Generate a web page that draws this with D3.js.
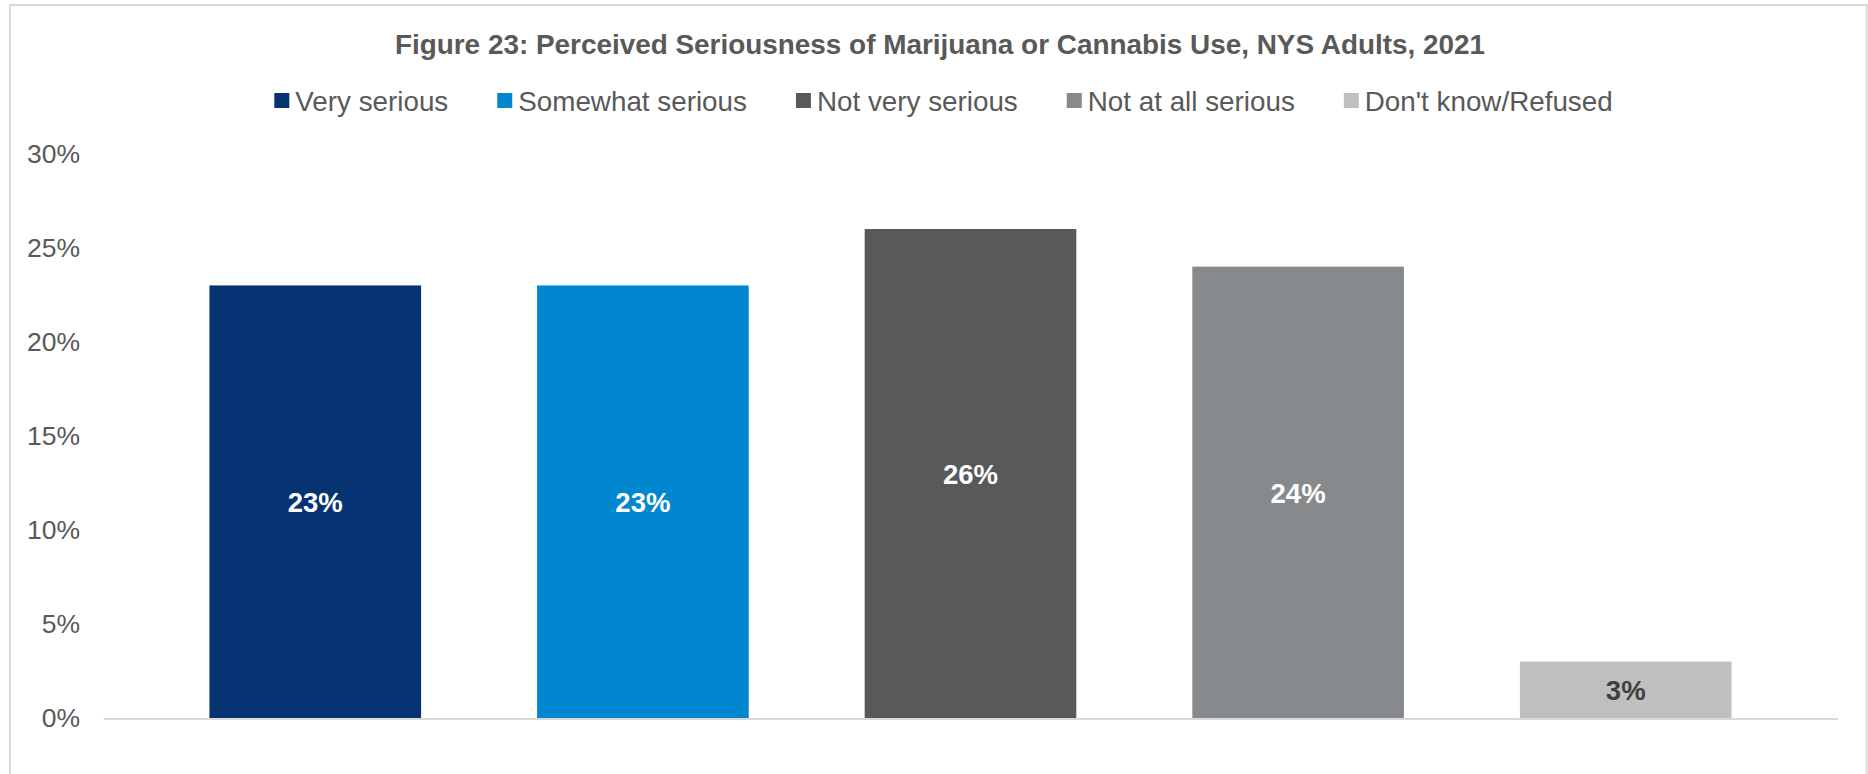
<!DOCTYPE html>
<html>
<head>
<meta charset="utf-8">
<script src="https://cdn.jsdelivr.net/npm/d3@7"></script>
<style>
  html, body { margin: 0; padding: 0; background: #ffffff; }
  svg { display: block; font-family: "Liberation Sans", Arial, Helvetica, sans-serif; }
</style>
</head>
<body>
<svg id="chart" width="1868" height="774"></svg>
<script>
// ---- Data ----
const title = "Figure 23: Perceived Seriousness of Marijuana or Cannabis Use, NYS Adults, 2021";
const categories = ["Very serious", "Somewhat serious", "Not very serious", "Not at all serious", "Don't know/Refused"];
const values = [23, 23, 26, 24, 3];
const colors = ["#063473", "#0087CF", "#595959", "#878A8C", "#BFBFBF"];
const labelColors = ["#ffffff", "#ffffff", "#ffffff", "#ffffff", "#404040"];
const yTicks = [0, 5, 10, 15, 20, 25, 30];

// ---- Layout ----
const W = 1868, H = 774;
const plot = { left: 103.3, right: 1837.7, top: 153.8, bottom: 718 };

const svg = d3.select("#chart");

// outer chart border
svg.append("rect")
  .attr("x", 10).attr("y", 5)
  .attr("width", 1856.7).attr("height", 800)
  .attr("fill", "#ffffff")
  .attr("stroke", "#d9d9d9").attr("stroke-width", 2);

// title
svg.append("text")
  .attr("x", 940).attr("y", 44)
  .attr("text-anchor", "middle").attr("dominant-baseline", "central")
  .attr("font-size", 27.9).attr("font-weight", "bold")
  .attr("fill", "#595959")
  .text(title);

// scales
const x = d3.scaleBand()
  .domain(categories)
  .range([plot.left, plot.right])
  .paddingInner(0.354)
  .paddingOuter(0.324);

const y = d3.scaleLinear()
  .domain([0, 30])
  .range([plot.bottom, plot.top]);

// y axis labels
const yAxis = svg.append("g")
  .attr("transform", "translate(80,0)")
  .call(d3.axisLeft(y).tickValues(yTicks).tickSize(0).tickPadding(0).tickFormat(d => d + "%"));
yAxis.select(".domain").remove();
yAxis.selectAll("text")
  .attr("font-family", "'Liberation Sans', Arial, sans-serif")
  .attr("font-size", 26.5)
  .attr("fill", "#595959");

// bars
svg.append("g").selectAll("rect")
  .data(categories)
  .join("rect")
  .attr("x", d => x(d))
  .attr("width", x.bandwidth())
  .attr("y", (d, i) => y(values[i]))
  .attr("height", (d, i) => y(0) - y(values[i]))
  .attr("fill", (d, i) => colors[i]);

// x axis line
const xAxis = svg.append("g")
  .attr("transform", `translate(0,${plot.bottom + 0.5})`)
  .call(d3.axisBottom(x).tickSize(0).tickSizeOuter(0).tickFormat(""));
xAxis.select(".domain").attr("stroke", "#d9d9d9").attr("stroke-width", 2);

// data labels
svg.append("g").selectAll("text")
  .data(categories)
  .join("text")
  .attr("x", d => x(d) + x.bandwidth() / 2)
  .attr("y", (d, i) => (y(values[i]) + y(0)) / 2 + 1)
  .attr("text-anchor", "middle").attr("dominant-baseline", "central")
  .attr("font-size", 27.5).attr("font-weight", "bold")
  .attr("fill", (d, i) => labelColors[i])
  .text((d, i) => values[i] + "%");

// legend
const legend = svg.append("g");
const items = legend.selectAll("g")
  .data(categories)
  .join("g");
items.append("rect")
  .attr("width", 15).attr("height", 15)
  .attr("y", 93)
  .attr("fill", (d, i) => colors[i]);
items.append("text")
  .attr("x", 21).attr("y", 101)
  .attr("dominant-baseline", "central")
  .attr("font-size", 27.8)
  .attr("fill", "#595959")
  .text(d => d);
let cursor = 0;
const gap = 49;
items.each(function () {
  const g = d3.select(this);
  g.attr("transform", `translate(${cursor},0)`);
  const tw = g.select("text").node().getComputedTextLength();
  cursor += 21 + tw + gap;
});
const totalW = cursor - gap;
legend.attr("transform", `translate(${943.5 - totalW / 2},0)`);
</script>
</body>
</html>
